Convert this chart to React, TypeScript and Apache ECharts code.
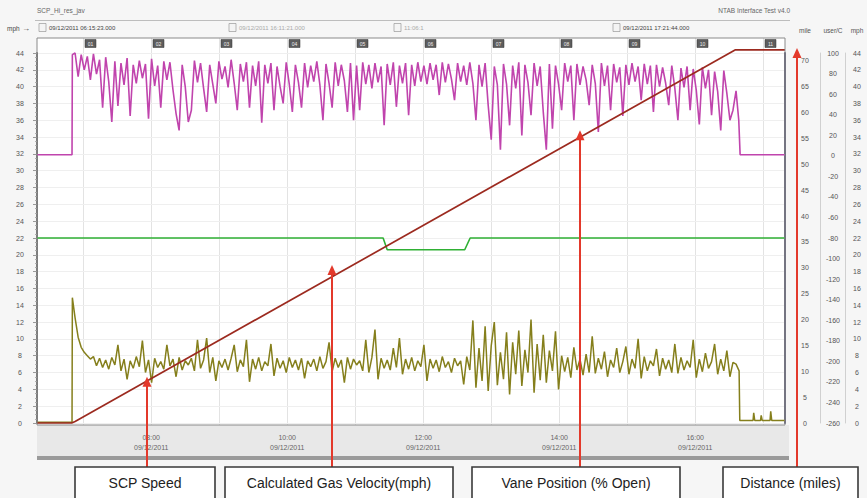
import React, { useEffect, useRef } from "react";
import * as echarts from "echarts";

// ---- axis ranges / tick labels ----
const xMin = 6.32; // hours
const xMax = 17.32;
const gridHours = [7, 8, 9, 10, 11, 12, 13, 14, 15, 16, 17];
const markerLabels = ["01", "02", "03", "04", "05", "06", "07", "08", "09", "10", "11"];
const xLabelHours = [8, 10, 12, 14, 16];
const dateText = "09/12/2011";

const startStamp = "09/12/2011 06:15:23.000";
const cursorStamp = "09/12/2011 16:11:21.000";
const cursorSpan = "11:06:1";
const endStamp = "09/12/2011 17:21:44.000";
const chartTitle = "SCP_Hi_res_jav";
const appTitle = "NTAB Interface Test v4.0";
const rightHeaders = ["mile", "user/C", "mph"];

// ---- sampled traces (one sample every 0.045 h from 6.88 h) ----
const sampleStart = 6.88;
const sampleStep = 0.045;

// Vane position trace (left scale)
const vaneValues = [
  44.0, 41.2, 43.8, 42.0, 43.6, 40.8, 43.9, 41.5, 43.2, 37.5,
  43.5, 40.6, 35.8, 43.0, 37.7, 42.8, 40.2, 43.4, 36.5, 42.6,
  40.4, 43.1, 41.0, 42.7, 36.2, 43.3, 40.1, 42.5, 37.5, 43.0,
  40.8, 42.9, 39.6, 36.8, 34.8, 42.6, 40.0, 35.8, 37.2, 43.1,
  40.5, 42.8, 39.8, 37.0, 42.6, 40.3, 38.0, 43.0, 40.9, 42.4,
  39.9, 43.2, 40.4, 37.2, 42.7, 40.6, 42.9, 37.5, 42.5, 40.1,
  43.0, 35.7, 42.6, 40.4, 42.8, 37.2, 42.4, 40.0, 38.0, 42.9,
  40.3, 37.0, 42.6, 40.5, 37.5, 42.8, 39.9, 42.5, 40.6, 43.0,
  40.2, 36.0, 42.7, 40.4, 37.5, 42.9, 40.1, 42.6, 40.7, 37.0,
  42.8, 36.0, 42.5, 37.2, 42.9, 40.3, 42.6, 39.8, 42.8, 40.5,
  42.4, 35.4, 42.7, 40.2, 42.9, 37.6, 42.5, 40.4, 42.8, 36.6,
  42.6, 40.1, 42.9, 40.6, 42.5, 40.3, 42.8, 40.8, 42.6, 39.0,
  42.9, 40.5, 42.7, 40.9, 38.4, 42.8, 40.6, 42.5, 40.2, 42.9,
  40.4, 36.0, 42.6, 40.0, 42.8, 37.8, 33.7, 42.4, 40.2, 32.5,
  42.7, 40.3, 35.4, 42.5, 39.8, 42.9, 34.2, 42.6, 40.5, 36.6,
  42.8, 40.1, 42.4, 37.0, 32.5, 42.7, 35.0, 42.5, 40.3, 37.2,
  42.8, 40.6, 42.5, 36.0, 42.7, 40.2, 42.4, 40.8, 37.8, 42.6,
  40.4, 34.6, 42.8, 40.1, 42.5, 37.2, 42.7, 40.5, 42.3, 36.5,
  42.6, 40.2, 42.8, 40.6, 42.4, 38.4, 42.7, 40.3, 42.5, 37.0,
  42.6, 40.0, 42.3, 40.4, 37.8, 42.5, 39.8, 36.0, 42.2, 39.9,
  42.4, 37.2, 42.1, 39.6, 35.5, 42.3, 39.8, 42.0, 36.6, 41.8,
  39.4, 34.8, 41.9, 39.2, 36.0, 37.2,
];
const vaneBefore = [[6.32, 31.9], [6.835, 31.9], [6.84, 43.8]];
const vaneAfter = [[16.6, 39.5], [16.64, 36.0], [16.66, 31.9], [17.32, 31.9]];

// SCP speed trace (left scale)
const scpValues = [
  12.5, 10.2, 9.0, 8.4, 8.0, 7.6, 7.9, 6.8, 7.7, 6.6,
  7.5, 6.4, 7.8, 6.9, 9.3, 6.2, 7.6, 5.2, 7.4, 6.5,
  7.9, 6.7, 9.8, 6.0, 7.5, 4.8, 7.7, 6.6, 7.3, 6.4,
  9.3, 6.8, 7.6, 5.5, 7.8, 6.3, 7.4, 6.9, 7.7, 6.2,
  9.9, 6.5, 7.5, 10.1, 6.0, 7.8, 5.0, 7.4, 6.6, 7.6,
  6.3, 7.7, 9.3, 6.1, 7.5, 6.7, 9.9, 4.9, 7.6, 6.4,
  7.8, 6.2, 7.3, 6.8, 9.4, 5.6, 7.7, 6.5, 7.4, 6.0,
  7.8, 6.6, 7.5, 6.3, 7.7, 5.3, 7.4, 6.7, 7.6, 6.2,
  7.9, 6.5, 7.3, 9.6, 6.1, 7.7, 6.6, 7.5, 4.8, 7.8,
  6.4, 7.6, 6.9, 7.4, 6.2, 9.9, 6.0, 7.8, 11.1, 5.2,
  7.7, 6.5, 7.5, 6.3, 8.9, 6.6, 10.1, 5.8, 7.6, 6.4,
  7.8, 6.2, 7.4, 6.7, 9.3, 5.0, 7.6, 6.5, 7.5, 6.1,
  7.9, 6.6, 7.3, 6.0, 7.7, 6.8, 7.4, 4.6, 7.9, 6.3,
  12.2, 4.2, 8.9, 5.0, 11.5, 3.8, 9.2, 12.0, 4.5, 8.4,
  5.2, 10.8, 3.4, 9.6, 5.8, 11.0, 4.4, 8.7, 6.0, 12.3,
  3.6, 9.4, 5.1, 10.5, 4.8, 8.6, 6.2, 10.9, 4.0, 8.0,
  6.1, 7.8, 5.4, 9.0, 6.3, 7.6, 5.7, 8.2, 6.0, 10.3,
  5.9, 7.7, 6.4, 8.5, 5.5, 7.5, 6.6, 8.9, 6.0, 7.3,
  9.1, 5.8, 7.6, 6.5, 10.0, 5.3, 7.9, 6.2, 7.4, 6.8,
  8.8, 5.6, 7.7, 6.4, 7.5, 6.0, 9.4, 5.9, 7.8, 6.3,
  7.4, 6.6, 9.9, 5.4, 7.6, 6.1, 8.3, 6.5, 7.3, 9.4,
  5.8, 7.6, 6.2, 8.6, 5.5, 7.2,
];
const scpBefore = [[6.32, 0.1], [6.835, 0.1], [6.84, 14.9]];
const scpAfter = [
  [16.6, 7.0], [16.645, 6.2], [16.655, 0.3], [16.85, 0.3], [16.86, 1.2], [16.875, 0.3],
  [16.96, 0.3], [16.97, 0.9], [16.985, 0.3], [17.1, 0.3], [17.11, 1.4], [17.125, 0.3], [17.32, 0.3],
];

// Calculated gas velocity (left scale)
const gasVelocity = [[6.32, 22.0], [11.41, 22.0], [11.47, 20.6], [12.61, 20.6], [12.69, 22.0], [17.32, 22.0]];

// Distance (mile scale)
const distance = [[6.32, 0.0], [6.83, 0.0], [6.88, 0.3], [16.585, 72.1], [17.32, 72.1]];

// annotation captions and the points their arrows reach (time h, value on left scale)
const annotationLabels = ["SCP Speed", "Calculated Gas Velocity(mph)", "Vane Position (% Open)", "Distance (miles)"];
const arrowTargets = [[7.94, 5.5], [10.66, 18.8], [14.305, 34.8]];
const distanceArrowValue = 72.1;

function sampled(values: number[]) {
  return values.map((v, i) => [+(sampleStart + i * sampleStep).toFixed(4), v]);
}

const pad = (n: number) => (n < 10 ? "0" + n : "" + n);

export default function App() {
  const ref = useRef<HTMLDivElement>(null);
  useEffect(() => {
    const el = ref.current!;
    const chart = echarts.init(el, null, { renderer: "svg" });
    const font = "'Liberation Sans', Arial, sans-serif";
    const small = { fontSize: 7, color: "#555", fontFamily: font };

    const lineSeries = (name: string, data: number[][], color: string, width: number, yAxisIndex = 0, z = 2) => ({
      name,
      type: "line",
      data,
      yAxisIndex,
      showSymbol: false,
      symbol: "none",
      clip: false,
      z,
      lineStyle: { color, width },
      emphasis: { disabled: true },
    });

    chart.setOption({
      animation: false,
      backgroundColor: "#f6f6f6",
      textStyle: { fontFamily: font },
      grid: { left: 37, right: 82, top: 53, bottom: 75, containLabel: false },
      xAxis: {
        type: "value",
        min: xMin,
        max: xMax,
        axisLine: { show: false },
        axisTick: { show: false },
        splitLine: { show: false },
        axisLabel: {
          ...small,
          color: "#666",
          customValues: xLabelHours,
          margin: 9,
          lineHeight: 10,
          formatter: (v: number) => `${pad(Math.round(v))}:00\n${dateText}`,
        },
      },
      yAxis: [
        {
          type: "value",
          min: 0,
          max: 44,
          interval: 2,
          position: "left",
          axisLine: { show: true, lineStyle: { color: "#707070", width: 2 } },
          axisTick: { show: true, length: 4, lineStyle: { color: "#999" } },
          minorTick: { show: true, splitNumber: 4, length: 2, lineStyle: { color: "#b0b0b0" } },
          axisLabel: { ...small, align: "center", margin: 17 },
          splitLine: { show: true, lineStyle: { color: "#efefef" } },
        },
        {
          type: "value",
          min: 0,
          max: 71.5,
          interval: 5,
          position: "right",
          offset: 0,
          axisLine: { show: true, lineStyle: { color: "#5e5e78", width: 2 } },
          axisTick: { show: false },
          axisLabel: { ...small, align: "center", margin: 20, showMaxLabel: false },
          splitLine: { show: false },
        },
        {
          type: "value",
          min: -260,
          max: 100,
          interval: 20,
          position: "right",
          offset: 35,
          axisLine: { show: true, lineStyle: { color: "#d0d0d0", width: 1 } },
          axisTick: { show: false },
          axisLabel: { ...small, align: "center", margin: 13 },
          splitLine: { show: false },
        },
        {
          type: "value",
          min: 0,
          max: 44,
          interval: 2,
          position: "right",
          offset: 60,
          axisLine: { show: true, lineStyle: { color: "#d0d0d0", width: 1 } },
          axisTick: { show: false },
          axisLabel: { ...small, align: "center", margin: 12 },
          splitLine: { show: false },
        },
      ],
      series: [
        lineSeries("Calculated Gas Velocity", gasVelocity, "#2fb034", 1.6, 0, 2),
        lineSeries("Vane Position", [...vaneBefore, ...sampled(vaneValues), ...vaneAfter], "#c044ad", 1.6, 0, 3),
        lineSeries("SCP Speed", [...scpBefore, ...sampled(scpValues), ...scpAfter], "#857f1c", 1.5, 0, 4),
        lineSeries("Distance", distance, "#9c2a1f", 1.7, 1, 5),
      ],
    });

    const toPx = (t: number, v: number, yi = 0) =>
      chart.convertToPixel({ xAxisIndex: 0, yAxisIndex: yi }, [t, v]) as number[];

    const plotL = toPx(xMin, 0)[0];
    const plotR = toPx(xMax, 0)[0];
    const plotT = 38;
    const plotB = 425;
    const g: any[] = [];

    // plot background, bottom band and scroll bar
    g.push({ type: "rect", z: -10, shape: { x: plotL, y: plotT, width: plotR - plotL, height: plotB - plotT }, style: { fill: "#ffffff" } });
    g.push({ type: "rect", z: -10, shape: { x: plotL, y: plotB, width: plotR - plotL + 4, height: 31 }, style: { fill: "#e8e8e8" } });
    g.push({ type: "rect", z: -9, shape: { x: plotL, y: 456, width: plotR - plotL + 4, height: 4 }, style: { fill: "#9a9a9a" } });

    // vertical grid lines and top markers
    gridHours.forEach((h, i) => {
      const x = Math.round(toPx(h, 0)[0]) + 0.5;
      g.push({ type: "line", z: -5, shape: { x1: x, y1: plotT, x2: x, y2: plotB }, style: { stroke: "#e3e3e3", lineWidth: 1 } });
      g.push({ type: "rect", z: 20, shape: { x: x + 1.5, y: 39.5, width: 11, height: 8 }, style: { fill: "#5d5d5d", stroke: "#333", lineWidth: 0.5 } });
      g.push({
        type: "text",
        z: 21,
        style: { text: markerLabels[i], x: x + 7, y: 43.5, fill: "#eeeeee", font: `5px ${font}`, textAlign: "center", textVerticalAlign: "middle" },
      });
    });

    // plot frame
    g.push({ type: "rect", z: 15, shape: { x: plotL, y: plotT, width: plotR - plotL, height: plotB - plotT }, style: { fill: "none", stroke: "#8a8a8a", lineWidth: 1 } });

    // title row
    g.push({ type: "text", style: { text: chartTitle, x: 37, y: 10, fill: "#666", font: `6.5px ${font}`, textVerticalAlign: "middle" } });
    g.push({ type: "text", style: { text: appTitle, x: 790, y: 10, fill: "#666", font: `6.5px ${font}`, textAlign: "right", textVerticalAlign: "middle" } });
    g.push({ type: "line", shape: { x1: 35, y1: 20.5, x2: 790, y2: 20.5 }, style: { stroke: "#bdbdbd", lineWidth: 1 } });
    g.push({ type: "text", style: { text: "mph", x: 7, y: 28, fill: "#444", font: `6.5px ${font}`, textVerticalAlign: "middle" } });
    g.push({ type: "text", style: { text: "\u2192", x: 22, y: 28, fill: "#444", font: `8px ${font}`, textVerticalAlign: "middle" } });
    const stamp = (x: number, text: string, color: string) => {
      g.push({ type: "rect", shape: { x, y: 23.5, width: 7, height: 8 }, style: { fill: "#f4f4f4", stroke: "#8a8a8a", lineWidth: 0.6 } });
      g.push({ type: "text", style: { text, x: x + 10, y: 28, fill: color, font: `6px ${font}`, textVerticalAlign: "middle" } });
    };
    stamp(39, startStamp, "#444");
    stamp(229, cursorStamp, "#aaa");
    stamp(394, cursorSpan, "#aaa");
    stamp(613, endStamp, "#444");

    // right scale headers
    const headerX = [805, 833, 857];
    rightHeaders.forEach((h, i) => {
      g.push({ type: "text", style: { text: h, x: headerX[i], y: 30, fill: "#555", font: `6.5px ${font}`, textAlign: "center", textVerticalAlign: "middle" } });
    });

    // annotation boxes
    const boxes = [
      [75, 215],
      [225, 453],
      [472, 680],
      [723, 858],
    ];
    const boxTop = 467;
    boxes.forEach(([x1, x2], i) => {
      g.push({ type: "rect", z: 30, shape: { x: x1, y: boxTop, width: x2 - x1, height: 40 }, style: { fill: "#ffffff", stroke: "#3a3a3a", lineWidth: 1.6 } });
      g.push({
        type: "text",
        z: 31,
        style: { text: annotationLabels[i], x: (x1 + x2) / 2, y: 483, fill: "#222", font: `14px ${font}`, textAlign: "center", textVerticalAlign: "middle" },
      });
    });

    // arrows
    const arrow = (x: number, tipY: number) => {
      g.push({ type: "line", z: 25, shape: { x1: x, y1: boxTop, x2: x, y2: tipY + 6 }, style: { stroke: "#e3392b", lineWidth: 2 } });
      g.push({ type: "polygon", z: 25, shape: { points: [[x, tipY], [x - 4.5, tipY + 10], [x + 4.5, tipY + 10]] }, style: { fill: "#e3392b" } });
    };
    arrowTargets.forEach(([t, v]) => {
      const [x, y] = toPx(t, v);
      arrow(Math.round(x), y);
    });
    arrow(Math.round(plotR) + 12, toPx(xMax, distanceArrowValue, 1)[1] - 2);

    chart.setOption({ graphic: g });
    return () => chart.dispose();
  }, []);
  return <div ref={ref} style={{ position: "fixed", left: 0, top: 0, width: 867, height: 498 }} />;
}
